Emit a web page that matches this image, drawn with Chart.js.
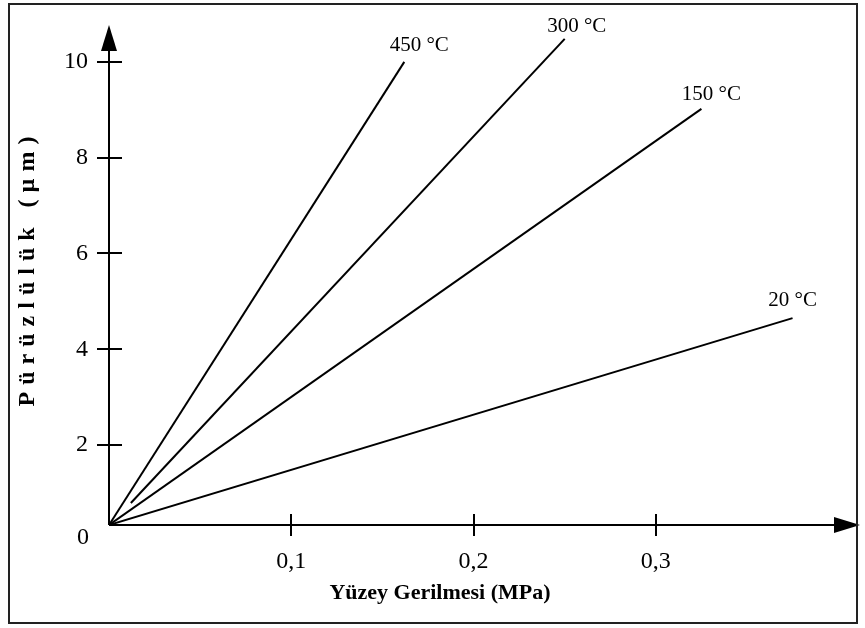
<!DOCTYPE html>
<html>
<head>
<meta charset="utf-8">
<script src="https://cdn.jsdelivr.net/npm/chart.js@4"></script>
<style>
  body { margin: 0; background: #fff; }
  #wrap { width: 865px; height: 628px; }
</style>
</head>
<body>
<div id="wrap"><canvas id="myChart" width="865" height="628"></canvas></div>
<script>
// Values
var seriesNames = ['450 °C', '300 °C', '150 °C', '20 °C'];
var xs450 = [0, 0.162];
var ys450 = [0.33, 10.0];
var xs300 = [0.012, 0.250];
var ys300 = [0.79, 10.48];
var xs150 = [0, 0.325];
var ys150 = [0.33, 9.02];
var xs20 = [0, 0.375];
var ys20 = [0.33, 4.65];
var xTicks = [0.1, 0.2, 0.3];
var yTicks = [2, 4, 6, 8, 10];
var xTitle = 'Yüzey Gerilmesi (MPa)';
var yTitle = 'Pürüzlülük (µm)';

// label offsets from each line end (px)
var labelOffset = [[15, -16], [12, -12], [10, -14], [0, -18]];

var serif = "'Liberation Serif', 'Times New Roman', serif";

function pts(xs, ys) {
    var out = [];
    for (var i = 0; i < xs.length; i++) {
        out.push({ x: xs[i], y: ys[i] });
    }
    return out;
}

var allData = [pts(xs450, ys450), pts(xs300, ys300), pts(xs150, ys150), pts(xs20, ys20)];

var datasets = [];
for (var i = 0; i < allData.length; i++) {
    datasets.push({
        label: seriesNames[i],
        data: allData[i],
        showLine: true,
        borderColor: '#000',
        borderWidth: 2,
        pointRadius: 0,
        fill: false
    });
}

function noPad(scale) {
    scale.paddingTop = 0;
    scale.paddingBottom = 0;
    scale.paddingLeft = 0;
    scale.paddingRight = 0;
}

var axesPlugin = {
    id: 'axesPlugin',
    afterDraw: function (chart) {
        var ctx = chart.ctx;
        var area = chart.chartArea;
        var sx = chart.scales.x;
        var sy = chart.scales.y;
        var ox = area.left;
        var oy = area.bottom;
        ctx.save();
        ctx.strokeStyle = '#000';
        ctx.fillStyle = '#000';
        ctx.lineWidth = 2;

        // axis lines
        ctx.beginPath();
        ctx.moveTo(ox, oy);
        ctx.lineTo(ox, area.top + 25);
        ctx.moveTo(ox, oy);
        ctx.lineTo(area.right - 25, oy);
        ctx.stroke();

        // arrows
        ctx.beginPath();
        ctx.moveTo(ox, area.top);
        ctx.lineTo(ox - 8, area.top + 26);
        ctx.lineTo(ox + 8, area.top + 26);
        ctx.closePath();
        ctx.fill();
        ctx.beginPath();
        ctx.moveTo(area.right, oy);
        ctx.lineTo(area.right - 26, oy - 8);
        ctx.lineTo(area.right - 26, oy + 8);
        ctx.closePath();
        ctx.fill();

        // ticks crossing the axes
        ctx.beginPath();
        yTicks.forEach(function (v) {
            var py = Math.round(sy.getPixelForValue(v));
            ctx.moveTo(ox - 12, py);
            ctx.lineTo(ox + 13, py);
        });
        xTicks.forEach(function (v) {
            var px = Math.round(sx.getPixelForValue(v));
            ctx.moveTo(px, oy - 11);
            ctx.lineTo(px, oy + 11);
        });
        ctx.stroke();

        // origin label
        ctx.font = '24px ' + serif;
        ctx.textAlign = 'center';
        ctx.textBaseline = 'middle';
        ctx.fillText('0', ox - 26, oy + 13);

        // series labels
        ctx.font = '21px ' + serif;
        chart.data.datasets.forEach(function (ds, i) {
            var last = ds.data[ds.data.length - 1];
            var px = sx.getPixelForValue(last.x) + labelOffset[i][0];
            var py = sy.getPixelForValue(last.y) + labelOffset[i][1];
            ctx.fillText(ds.label, px, py);
        });

        // axis titles
        ctx.font = 'bold 22px ' + serif;
        ctx.fillText(xTitle, 440, 593);
        ctx.save();
        ctx.translate(28, 271);
        ctx.rotate(-Math.PI / 2);
        ctx.font = 'bold 24px ' + serif;
        ctx.letterSpacing = '7px';
        ctx.fillText(yTitle, 3, 0);
        ctx.restore();

        // frame
        ctx.strokeStyle = '#222';
        ctx.lineWidth = 2;
        ctx.strokeRect(9, 4, 848, 619);
        ctx.restore();
    }
};

var ctx = document.getElementById('myChart').getContext('2d');
var myChart = new Chart(ctx, {
    type: 'scatter',
    data: { datasets: datasets },
    options: {
        responsive: false,
        animation: false,
        layout: { padding: { left: 0, right: 5, top: 25, bottom: 0 } },
        plugins: {
            legend: { display: false },
            tooltip: { enabled: false }
        },
        scales: {
            x: {
                type: 'linear',
                min: 0,
                max: 0.412,
                afterFit: function (scale) { scale.height = 103; noPad(scale); },
                afterBuildTicks: function (scale) {
                    scale.ticks = xTicks.map(function (v) { return { value: v }; });
                },
                grid: { display: false, drawTicks: false },
                border: { display: false },
                ticks: {
                    color: '#000',
                    padding: 22,
                    font: { family: serif, size: 24 },
                    callback: function (v) { return String(v).replace('.', ','); }
                }
            },
            y: {
                type: 'linear',
                min: 0.33,
                max: 10.77,
                afterFit: function (scale) { scale.width = 109; noPad(scale); },
                afterBuildTicks: function (scale) {
                    scale.ticks = yTicks.map(function (v) { return { value: v }; });
                },
                grid: { display: false, drawTicks: false },
                border: { display: false },
                ticks: {
                    color: '#000',
                    padding: 21,
                    font: { family: serif, size: 24 }
                }
            }
        }
    },
    plugins: [axesPlugin]
});
</script>
</body>
</html>
